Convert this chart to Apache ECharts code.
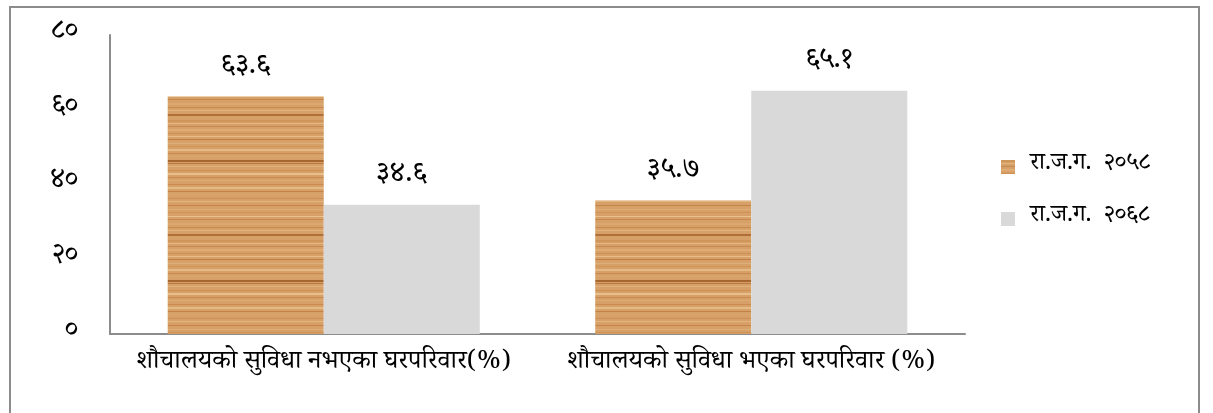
<!DOCTYPE html>
<html><head><meta charset="utf-8">
<script src="https://cdn.jsdelivr.net/npm/echarts@6/dist/echarts.min.js"></script>
<style>html,body{margin:0;padding:0;background:#fff}#c{width:1213px;height:413px}</style>
</head><body><div id="c"></div>
<script>
const categories = ['शौचालयको सुविधा नभएका घरपरिवार(%)', 'शौचालयको सुविधा भएका घरपरिवार (%)'];
const seriesNames = ['रा.ज.ग.  २०५८', 'रा.ज.ग.  २०६८'];
const values2058 = [63.6, 35.7];
const values2068 = [34.6, 65.1];
const yTicks = [0, 20, 40, 60, 80];

const devDigits = '०१२३४५६७८९';
function toDev(s){ return String(s).replace(/[0-9]/g, d => devDigits[+d]); }

function woodPattern(){
  const c = document.createElement('canvas');
  c.width = 160; c.height = 120;
  const g = c.getContext('2d');
  g.fillStyle = '#d6a068'; g.fillRect(0,0,160,120);
  const stripes = [
    [0,'#cf965a',2],[3,'#e2b47e',1],[6,'#c68a50',1],[9,'#deac74',2],[13,'#cd9053',1],
    [16,'#e6bc88',1],[19,'#c27f45',1],[23,'#dbb07a',1],[26,'#d09757',1],[29,'#e4b983',2],
    [33,'#c9894c',1],[36,'#d9a66c',1],[40,'#a8672f',2],[43,'#b9783d',1],[46,'#e0b27b',1],
    [50,'#cd9152',1],[53,'#e7bf8b',2],[57,'#c8894d',1],[60,'#dcab72',1],[64,'#ca8c4f',1],
    [67,'#e5ba84',2],[71,'#c48246',1],[74,'#d8a56b',1],[78,'#cc9054',1],[81,'#e3b680',1],
    [85,'#c58447',1],[89,'#dfae76',1],[92,'#cf9355',1],[96,'#e8c18d',1],[99,'#c7884b',1],
    [103,'#daa86f',2],[107,'#c98a4d',1],[110,'#e2b47d',1],[114,'#b06f36',2],[117,'#d6a167',1]
  ];
  stripes.forEach(s => { g.fillStyle = s[1]; g.fillRect(0, s[0], 160, s[2]); });
  return c;
}
const wood = {image: woodPattern(), repeat: 'repeat'};

const chart = echarts.init(document.getElementById('c'));
const fontFam = '"Noto Serif Devanagari","Noto Sans Devanagari","Noto Sans","DejaVu Sans",sans-serif';
chart.setOption({
  animation: false,
  textStyle: {fontFamily: fontFam},
  graphic: [{type:'rect', shape:{x:10, y:7, width:1189, height:410}, style:{fill:'none', stroke:'#8c8c8c', lineWidth:2}, silent:true}],
  grid: {left: 110, right: 248, top: 35, bottom: 79},
  legend: {
    orient: 'vertical', left: 996, top: 150, itemGap: 28, itemWidth: 14, itemHeight: 14,
    icon: 'rect',
    textStyle: {fontSize: 24, color: '#000', fontFamily: fontFam, padding: [0, 0, 0, 10]},
    data: seriesNames
  },
  xAxis: {
    type: 'category', data: categories,
    axisLine: {lineStyle: {color: '#8c8c8c', width: 2}},
    axisTick: {show: false},
    axisLabel: {fontSize: 26, color: '#000', margin: 18, interval: 0, hideOverlap: false, fontFamily: fontFam}
  },
  yAxis: {
    type: 'value', min: 0, max: 80, interval: 20,
    axisLine: {show: true, lineStyle: {color: '#8c8c8c', width: 2}},
    axisTick: {show: false},
    splitLine: {show: false},
    axisLabel: {fontSize: 28, color: '#000', margin: 32, formatter: v => yTicks.includes(v) ? toDev(v) : '', fontFamily: fontFam}
  },
  series: [
    {name: seriesNames[0], type: 'bar', data: values2058, barGap: '0%', barCategoryGap: '27%',
     itemStyle: {color: wood},
     label: {show: true, position: 'top', distance: 12, fontSize: 29, color: '#000', formatter: p => toDev(p.value.toFixed(1)), fontFamily: fontFam}},
    {name: seriesNames[1], type: 'bar', data: values2068, barGap: '0%', barCategoryGap: '27%',
     itemStyle: {color: '#d9d9d9'},
     label: {show: true, position: 'top', distance: 12, fontSize: 29, color: '#000', formatter: p => toDev(p.value.toFixed(1)), fontFamily: fontFam}}
  ]
});
</script></body></html>
